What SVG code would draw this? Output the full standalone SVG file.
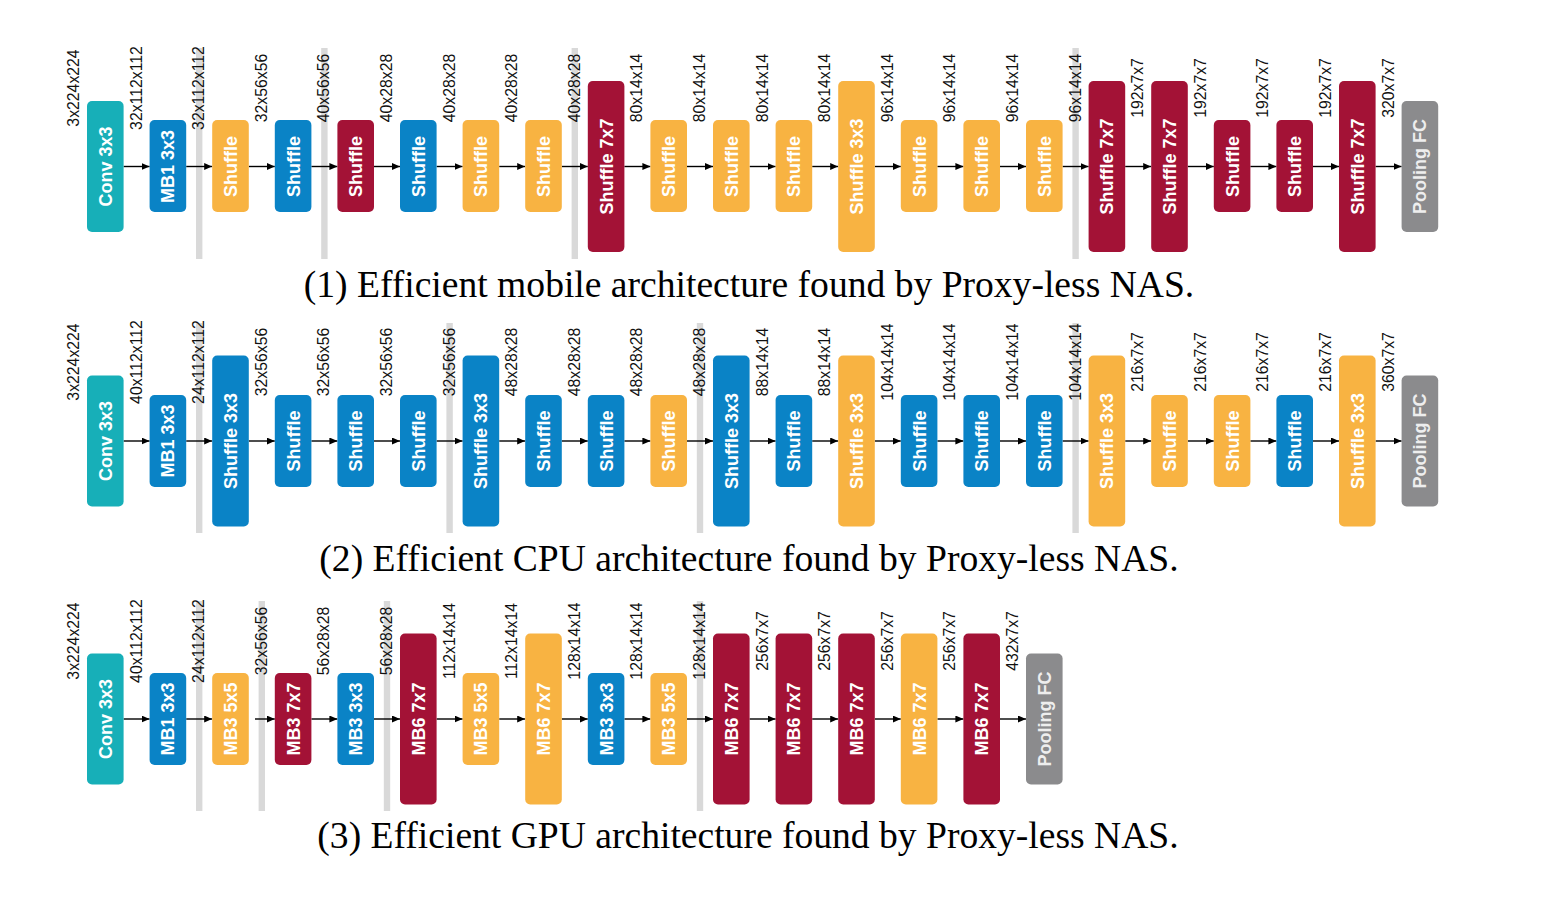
<svg xmlns="http://www.w3.org/2000/svg" width="1559" height="909" viewBox="0 0 1559 909">
<defs>
<style>
.teal{fill:#17AFB8}.blue{fill:#0A83C6}.org{fill:#F8B342}.red{fill:#A31236}.gray{fill:#8B8B8D}
.bar{fill:#D9D9D9}
.t{font-family:"Liberation Sans",Arial,sans-serif;font-weight:bold;font-size:18px;fill:#fff;text-anchor:middle}
.tg{font-family:"Liberation Sans",Arial,sans-serif;font-weight:bold;font-size:18px;fill:#EEEEEE;text-anchor:middle}
.l{font-family:"Liberation Sans",Arial,sans-serif;font-size:15.8px;fill:#111;text-anchor:middle}
.a{stroke:#000;stroke-width:1.4;marker-end:url(#ah)}
.c{font-family:"Liberation Serif","Times New Roman",serif;font-size:37.6px;fill:#000;text-anchor:middle}
</style>
<marker id="ah" markerWidth="8" markerHeight="7" refX="8" refY="3.5" orient="auto" markerUnits="userSpaceOnUse"><path d="M0,0 L8,3.5 L0,7 z" fill="#000"/></marker>
</defs>
<rect width="1559" height="909" fill="#fff"/>

<!-- separator bars -->
<g id="bars">
<rect class="bar" x="196" y="48" width="6.4" height="211"/>
<rect class="bar" x="321.2" y="48" width="6.4" height="211"/>
<rect class="bar" x="571.6" y="48" width="6.4" height="211"/>
<rect class="bar" x="1072.4" y="48" width="6.4" height="211"/>
<rect class="bar" x="196" y="323" width="6.4" height="210"/>
<rect class="bar" x="446.4" y="323" width="6.4" height="210"/>
<rect class="bar" x="696.8" y="323" width="6.4" height="210"/>
<rect class="bar" x="1072.4" y="323" width="6.4" height="210"/>
<rect class="bar" x="196" y="601" width="6.4" height="210"/>
<rect class="bar" x="258.6" y="601" width="6.4" height="210"/>
<rect class="bar" x="383.8" y="601" width="6.4" height="210"/>
<rect class="bar" x="696.8" y="601" width="6.4" height="210"/>
</g>

<!-- connectors -->
<g id="connectors">
<line class="a" x1="123.6" y1="166.5" x2="149.6" y2="166.5"/>
<line class="a" x1="186.2" y1="166.5" x2="212.2" y2="166.5"/>
<line class="a" x1="248.8" y1="166.5" x2="274.8" y2="166.5"/>
<line class="a" x1="311.4" y1="166.5" x2="337.4" y2="166.5"/>
<line class="a" x1="374" y1="166.5" x2="400" y2="166.5"/>
<line class="a" x1="436.6" y1="166.5" x2="462.6" y2="166.5"/>
<line class="a" x1="499.2" y1="166.5" x2="525.2" y2="166.5"/>
<line class="a" x1="561.8" y1="166.5" x2="587.8" y2="166.5"/>
<line class="a" x1="624.4" y1="166.5" x2="650.4" y2="166.5"/>
<line class="a" x1="687" y1="166.5" x2="713" y2="166.5"/>
<line class="a" x1="749.6" y1="166.5" x2="775.6" y2="166.5"/>
<line class="a" x1="812.2" y1="166.5" x2="838.2" y2="166.5"/>
<line class="a" x1="874.8" y1="166.5" x2="900.8" y2="166.5"/>
<line class="a" x1="937.4" y1="166.5" x2="963.4" y2="166.5"/>
<line class="a" x1="1000" y1="166.5" x2="1026" y2="166.5"/>
<line class="a" x1="1062.6" y1="166.5" x2="1088.6" y2="166.5"/>
<line class="a" x1="1125.2" y1="166.5" x2="1151.2" y2="166.5"/>
<line class="a" x1="1187.8" y1="166.5" x2="1213.8" y2="166.5"/>
<line class="a" x1="1250.4" y1="166.5" x2="1276.4" y2="166.5"/>
<line class="a" x1="1313" y1="166.5" x2="1339" y2="166.5"/>
<line class="a" x1="1375.6" y1="166.5" x2="1401.6" y2="166.5"/>

<line class="a" x1="123.6" y1="441" x2="149.6" y2="441"/>
<line class="a" x1="186.2" y1="441" x2="212.2" y2="441"/>
<line class="a" x1="248.8" y1="441" x2="274.8" y2="441"/>
<line class="a" x1="311.4" y1="441" x2="337.4" y2="441"/>
<line class="a" x1="374" y1="441" x2="400" y2="441"/>
<line class="a" x1="436.6" y1="441" x2="462.6" y2="441"/>
<line class="a" x1="499.2" y1="441" x2="525.2" y2="441"/>
<line class="a" x1="561.8" y1="441" x2="587.8" y2="441"/>
<line class="a" x1="624.4" y1="441" x2="650.4" y2="441"/>
<line class="a" x1="687" y1="441" x2="713" y2="441"/>
<line class="a" x1="749.6" y1="441" x2="775.6" y2="441"/>
<line class="a" x1="812.2" y1="441" x2="838.2" y2="441"/>
<line class="a" x1="874.8" y1="441" x2="900.8" y2="441"/>
<line class="a" x1="937.4" y1="441" x2="963.4" y2="441"/>
<line class="a" x1="1000" y1="441" x2="1026" y2="441"/>
<line class="a" x1="1062.6" y1="441" x2="1088.6" y2="441"/>
<line class="a" x1="1125.2" y1="441" x2="1151.2" y2="441"/>
<line class="a" x1="1187.8" y1="441" x2="1213.8" y2="441"/>
<line class="a" x1="1250.4" y1="441" x2="1276.4" y2="441"/>
<line class="a" x1="1313" y1="441" x2="1339" y2="441"/>
<line class="a" x1="1375.6" y1="441" x2="1401.6" y2="441"/>

<line class="a" x1="123.6" y1="719" x2="149.6" y2="719"/>
<line class="a" x1="186.2" y1="719" x2="212.2" y2="719"/>
<line class="a" x1="255" y1="719" x2="274.8" y2="719"/>
<line class="a" x1="311.4" y1="719" x2="337.4" y2="719"/>
<line class="a" x1="374" y1="719" x2="400" y2="719"/>
<line class="a" x1="436.6" y1="719" x2="462.6" y2="719"/>
<line class="a" x1="499.2" y1="719" x2="525.2" y2="719"/>
<line class="a" x1="561.8" y1="719" x2="587.8" y2="719"/>
<line class="a" x1="624.4" y1="719" x2="650.4" y2="719"/>
<line class="a" x1="687" y1="719" x2="713" y2="719"/>
<line class="a" x1="749.6" y1="719" x2="775.6" y2="719"/>
<line class="a" x1="812.2" y1="719" x2="838.2" y2="719"/>
<line class="a" x1="874.8" y1="719" x2="900.8" y2="719"/>
<line class="a" x1="937.4" y1="719" x2="963.4" y2="719"/>
<line class="a" x1="1000" y1="719" x2="1026" y2="719"/>
</g>

<!-- dimension labels -->
<g id="labels">
<text class="l" transform="translate(79,88) rotate(-90)">3x224x224</text>
<text class="l" transform="translate(141.6,88) rotate(-90)">32x112x112</text>
<text class="l" transform="translate(204.2,88) rotate(-90)">32x112x112</text>
<text class="l" transform="translate(266.8,88) rotate(-90)">32x56x56</text>
<text class="l" transform="translate(329.4,88) rotate(-90)">40x56x56</text>
<text class="l" transform="translate(392,88) rotate(-90)">40x28x28</text>
<text class="l" transform="translate(454.6,88) rotate(-90)">40x28x28</text>
<text class="l" transform="translate(517.2,88) rotate(-90)">40x28x28</text>
<text class="l" transform="translate(579.8,88) rotate(-90)">40x28x28</text>
<text class="l" transform="translate(642.4,88) rotate(-90)">80x14x14</text>
<text class="l" transform="translate(705,88) rotate(-90)">80x14x14</text>
<text class="l" transform="translate(767.6,88) rotate(-90)">80x14x14</text>
<text class="l" transform="translate(830.2,88) rotate(-90)">80x14x14</text>
<text class="l" transform="translate(892.8,88) rotate(-90)">96x14x14</text>
<text class="l" transform="translate(955.4,88) rotate(-90)">96x14x14</text>
<text class="l" transform="translate(1018,88) rotate(-90)">96x14x14</text>
<text class="l" transform="translate(1080.6,88) rotate(-90)">96x14x14</text>
<text class="l" transform="translate(1143.2,88) rotate(-90)">192x7x7</text>
<text class="l" transform="translate(1205.8,88) rotate(-90)">192x7x7</text>
<text class="l" transform="translate(1268.4,88) rotate(-90)">192x7x7</text>
<text class="l" transform="translate(1331,88) rotate(-90)">192x7x7</text>
<text class="l" transform="translate(1393.6,88) rotate(-90)">320x7x7</text>

<text class="l" transform="translate(79,362) rotate(-90)">3x224x224</text>
<text class="l" transform="translate(141.6,362) rotate(-90)">40x112x112</text>
<text class="l" transform="translate(204.2,362) rotate(-90)">24x112x112</text>
<text class="l" transform="translate(266.8,362) rotate(-90)">32x56x56</text>
<text class="l" transform="translate(329.4,362) rotate(-90)">32x56x56</text>
<text class="l" transform="translate(392,362) rotate(-90)">32x56x56</text>
<text class="l" transform="translate(454.6,362) rotate(-90)">32x56x56</text>
<text class="l" transform="translate(517.2,362) rotate(-90)">48x28x28</text>
<text class="l" transform="translate(579.8,362) rotate(-90)">48x28x28</text>
<text class="l" transform="translate(642.4,362) rotate(-90)">48x28x28</text>
<text class="l" transform="translate(705,362) rotate(-90)">48x28x28</text>
<text class="l" transform="translate(767.6,362) rotate(-90)">88x14x14</text>
<text class="l" transform="translate(830.2,362) rotate(-90)">88x14x14</text>
<text class="l" transform="translate(892.8,362) rotate(-90)">104x14x14</text>
<text class="l" transform="translate(955.4,362) rotate(-90)">104x14x14</text>
<text class="l" transform="translate(1018,362) rotate(-90)">104x14x14</text>
<text class="l" transform="translate(1080.6,362) rotate(-90)">104x14x14</text>
<text class="l" transform="translate(1143.2,362) rotate(-90)">216x7x7</text>
<text class="l" transform="translate(1205.8,362) rotate(-90)">216x7x7</text>
<text class="l" transform="translate(1268.4,362) rotate(-90)">216x7x7</text>
<text class="l" transform="translate(1331,362) rotate(-90)">216x7x7</text>
<text class="l" transform="translate(1393.6,362) rotate(-90)">360x7x7</text>

<text class="l" transform="translate(79,641) rotate(-90)">3x224x224</text>
<text class="l" transform="translate(141.6,641) rotate(-90)">40x112x112</text>
<text class="l" transform="translate(204.2,641) rotate(-90)">24x112x112</text>
<text class="l" transform="translate(266.8,641) rotate(-90)">32x56x56</text>
<text class="l" transform="translate(329.4,641) rotate(-90)">56x28x28</text>
<text class="l" transform="translate(392,641) rotate(-90)">56x28x28</text>
<text class="l" transform="translate(454.6,641) rotate(-90)">112x14x14</text>
<text class="l" transform="translate(517.2,641) rotate(-90)">112x14x14</text>
<text class="l" transform="translate(579.8,641) rotate(-90)">128x14x14</text>
<text class="l" transform="translate(642.4,641) rotate(-90)">128x14x14</text>
<text class="l" transform="translate(705,641) rotate(-90)">128x14x14</text>
<text class="l" transform="translate(767.6,641) rotate(-90)">256x7x7</text>
<text class="l" transform="translate(830.2,641) rotate(-90)">256x7x7</text>
<text class="l" transform="translate(892.8,641) rotate(-90)">256x7x7</text>
<text class="l" transform="translate(955.4,641) rotate(-90)">256x7x7</text>
<text class="l" transform="translate(1018,641) rotate(-90)">432x7x7</text>
</g>

<!-- Row 1 nodes -->
<g id="r1n0"><rect class="teal" x="87" y="101" width="36.6" height="131" rx="5"/><text class="t" transform="translate(111.8,166.5) rotate(-90)">Conv 3x3</text></g>
<g id="r1n1"><rect class="blue" x="149.6" y="120" width="36.6" height="92" rx="5"/><text class="t" transform="translate(174.4,166.5) rotate(-90)">MB1 3x3</text></g>
<g id="r1n2"><rect class="org" x="212.2" y="120" width="36.6" height="92" rx="5"/><text class="t" transform="translate(237,166.5) rotate(-90)">Shuffle</text></g>
<g id="r1n3"><rect class="blue" x="274.8" y="120" width="36.6" height="92" rx="5"/><text class="t" transform="translate(299.6,166.5) rotate(-90)">Shuffle</text></g>
<g id="r1n4"><rect class="red" x="337.4" y="120" width="36.6" height="92" rx="5"/><text class="t" transform="translate(362.2,166.5) rotate(-90)">Shuffle</text></g>
<g id="r1n5"><rect class="blue" x="400" y="120" width="36.6" height="92" rx="5"/><text class="t" transform="translate(424.8,166.5) rotate(-90)">Shuffle</text></g>
<g id="r1n6"><rect class="org" x="462.6" y="120" width="36.6" height="92" rx="5"/><text class="t" transform="translate(487.4,166.5) rotate(-90)">Shuffle</text></g>
<g id="r1n7"><rect class="org" x="525.2" y="120" width="36.6" height="92" rx="5"/><text class="t" transform="translate(550,166.5) rotate(-90)">Shuffle</text></g>
<g id="r1n8"><rect class="red" x="587.8" y="81" width="36.6" height="171" rx="5"/><text class="t" transform="translate(612.6,166.5) rotate(-90)">Shuffle 7x7</text></g>
<g id="r1n9"><rect class="org" x="650.4" y="120" width="36.6" height="92" rx="5"/><text class="t" transform="translate(675.2,166.5) rotate(-90)">Shuffle</text></g>
<g id="r1n10"><rect class="org" x="713" y="120" width="36.6" height="92" rx="5"/><text class="t" transform="translate(737.8,166.5) rotate(-90)">Shuffle</text></g>
<g id="r1n11"><rect class="org" x="775.6" y="120" width="36.6" height="92" rx="5"/><text class="t" transform="translate(800.4,166.5) rotate(-90)">Shuffle</text></g>
<g id="r1n12"><rect class="org" x="838.2" y="81" width="36.6" height="171" rx="5"/><text class="t" transform="translate(863,166.5) rotate(-90)">Shuffle 3x3</text></g>
<g id="r1n13"><rect class="org" x="900.8" y="120" width="36.6" height="92" rx="5"/><text class="t" transform="translate(925.6,166.5) rotate(-90)">Shuffle</text></g>
<g id="r1n14"><rect class="org" x="963.4" y="120" width="36.6" height="92" rx="5"/><text class="t" transform="translate(988.2,166.5) rotate(-90)">Shuffle</text></g>
<g id="r1n15"><rect class="org" x="1026" y="120" width="36.6" height="92" rx="5"/><text class="t" transform="translate(1050.8,166.5) rotate(-90)">Shuffle</text></g>
<g id="r1n16"><rect class="red" x="1088.6" y="81" width="36.6" height="171" rx="5"/><text class="t" transform="translate(1113.4,166.5) rotate(-90)">Shuffle 7x7</text></g>
<g id="r1n17"><rect class="red" x="1151.2" y="81" width="36.6" height="171" rx="5"/><text class="t" transform="translate(1176,166.5) rotate(-90)">Shuffle 7x7</text></g>
<g id="r1n18"><rect class="red" x="1213.8" y="120" width="36.6" height="92" rx="5"/><text class="t" transform="translate(1238.6,166.5) rotate(-90)">Shuffle</text></g>
<g id="r1n19"><rect class="red" x="1276.4" y="120" width="36.6" height="92" rx="5"/><text class="t" transform="translate(1301.2,166.5) rotate(-90)">Shuffle</text></g>
<g id="r1n20"><rect class="red" x="1339" y="81" width="36.6" height="171" rx="5"/><text class="t" transform="translate(1363.8,166.5) rotate(-90)">Shuffle 7x7</text></g>
<g id="r1n21"><rect class="gray" x="1401.6" y="101" width="36.6" height="131" rx="5"/><text class="tg" transform="translate(1426.4,166.5) rotate(-90)">Pooling FC</text></g>

<!-- Row 2 nodes -->
<g id="r2n0"><rect class="teal" x="87" y="375.5" width="36.6" height="131" rx="5"/><text class="t" transform="translate(111.8,441) rotate(-90)">Conv 3x3</text></g>
<g id="r2n1"><rect class="blue" x="149.6" y="395" width="36.6" height="92" rx="5"/><text class="t" transform="translate(174.4,441) rotate(-90)">MB1 3x3</text></g>
<g id="r2n2"><rect class="blue" x="212.2" y="355.5" width="36.6" height="171" rx="5"/><text class="t" transform="translate(237,441) rotate(-90)">Shuffle 3x3</text></g>
<g id="r2n3"><rect class="blue" x="274.8" y="395" width="36.6" height="92" rx="5"/><text class="t" transform="translate(299.6,441) rotate(-90)">Shuffle</text></g>
<g id="r2n4"><rect class="blue" x="337.4" y="395" width="36.6" height="92" rx="5"/><text class="t" transform="translate(362.2,441) rotate(-90)">Shuffle</text></g>
<g id="r2n5"><rect class="blue" x="400" y="395" width="36.6" height="92" rx="5"/><text class="t" transform="translate(424.8,441) rotate(-90)">Shuffle</text></g>
<g id="r2n6"><rect class="blue" x="462.6" y="355.5" width="36.6" height="171" rx="5"/><text class="t" transform="translate(487.4,441) rotate(-90)">Shuffle 3x3</text></g>
<g id="r2n7"><rect class="blue" x="525.2" y="395" width="36.6" height="92" rx="5"/><text class="t" transform="translate(550,441) rotate(-90)">Shuffle</text></g>
<g id="r2n8"><rect class="blue" x="587.8" y="395" width="36.6" height="92" rx="5"/><text class="t" transform="translate(612.6,441) rotate(-90)">Shuffle</text></g>
<g id="r2n9"><rect class="org" x="650.4" y="395" width="36.6" height="92" rx="5"/><text class="t" transform="translate(675.2,441) rotate(-90)">Shuffle</text></g>
<g id="r2n10"><rect class="blue" x="713" y="355.5" width="36.6" height="171" rx="5"/><text class="t" transform="translate(737.8,441) rotate(-90)">Shuffle 3x3</text></g>
<g id="r2n11"><rect class="blue" x="775.6" y="395" width="36.6" height="92" rx="5"/><text class="t" transform="translate(800.4,441) rotate(-90)">Shuffle</text></g>
<g id="r2n12"><rect class="org" x="838.2" y="355.5" width="36.6" height="171" rx="5"/><text class="t" transform="translate(863,441) rotate(-90)">Shuffle 3x3</text></g>
<g id="r2n13"><rect class="blue" x="900.8" y="395" width="36.6" height="92" rx="5"/><text class="t" transform="translate(925.6,441) rotate(-90)">Shuffle</text></g>
<g id="r2n14"><rect class="blue" x="963.4" y="395" width="36.6" height="92" rx="5"/><text class="t" transform="translate(988.2,441) rotate(-90)">Shuffle</text></g>
<g id="r2n15"><rect class="blue" x="1026" y="395" width="36.6" height="92" rx="5"/><text class="t" transform="translate(1050.8,441) rotate(-90)">Shuffle</text></g>
<g id="r2n16"><rect class="org" x="1088.6" y="355.5" width="36.6" height="171" rx="5"/><text class="t" transform="translate(1113.4,441) rotate(-90)">Shuffle 3x3</text></g>
<g id="r2n17"><rect class="org" x="1151.2" y="395" width="36.6" height="92" rx="5"/><text class="t" transform="translate(1176,441) rotate(-90)">Shuffle</text></g>
<g id="r2n18"><rect class="org" x="1213.8" y="395" width="36.6" height="92" rx="5"/><text class="t" transform="translate(1238.6,441) rotate(-90)">Shuffle</text></g>
<g id="r2n19"><rect class="blue" x="1276.4" y="395" width="36.6" height="92" rx="5"/><text class="t" transform="translate(1301.2,441) rotate(-90)">Shuffle</text></g>
<g id="r2n20"><rect class="org" x="1339" y="355.5" width="36.6" height="171" rx="5"/><text class="t" transform="translate(1363.8,441) rotate(-90)">Shuffle 3x3</text></g>
<g id="r2n21"><rect class="gray" x="1401.6" y="375.5" width="36.6" height="131" rx="5"/><text class="tg" transform="translate(1426.4,441) rotate(-90)">Pooling FC</text></g>

<!-- Row 3 nodes -->
<g id="r3n0"><rect class="teal" x="87" y="653.5" width="36.6" height="131" rx="5"/><text class="t" transform="translate(111.8,719) rotate(-90)">Conv 3x3</text></g>
<g id="r3n1"><rect class="blue" x="149.6" y="673" width="36.6" height="92" rx="5"/><text class="t" transform="translate(174.4,719) rotate(-90)">MB1 3x3</text></g>
<g id="r3n2"><rect class="org" x="212.2" y="673" width="36.6" height="92" rx="5"/><text class="t" transform="translate(237,719) rotate(-90)">MB3 5x5</text></g>
<g id="r3n3"><rect class="red" x="274.8" y="673" width="36.6" height="92" rx="5"/><text class="t" transform="translate(299.6,719) rotate(-90)">MB3 7x7</text></g>
<g id="r3n4"><rect class="blue" x="337.4" y="673" width="36.6" height="92" rx="5"/><text class="t" transform="translate(362.2,719) rotate(-90)">MB3 3x3</text></g>
<g id="r3n5"><rect class="red" x="400" y="633.5" width="36.6" height="171" rx="5"/><text class="t" transform="translate(424.8,719) rotate(-90)">MB6 7x7</text></g>
<g id="r3n6"><rect class="org" x="462.6" y="673" width="36.6" height="92" rx="5"/><text class="t" transform="translate(487.4,719) rotate(-90)">MB3 5x5</text></g>
<g id="r3n7"><rect class="org" x="525.2" y="633.5" width="36.6" height="171" rx="5"/><text class="t" transform="translate(550,719) rotate(-90)">MB6 7x7</text></g>
<g id="r3n8"><rect class="blue" x="587.8" y="673" width="36.6" height="92" rx="5"/><text class="t" transform="translate(612.6,719) rotate(-90)">MB3 3x3</text></g>
<g id="r3n9"><rect class="org" x="650.4" y="673" width="36.6" height="92" rx="5"/><text class="t" transform="translate(675.2,719) rotate(-90)">MB3 5x5</text></g>
<g id="r3n10"><rect class="red" x="713" y="633.5" width="36.6" height="171" rx="5"/><text class="t" transform="translate(737.8,719) rotate(-90)">MB6 7x7</text></g>
<g id="r3n11"><rect class="red" x="775.6" y="633.5" width="36.6" height="171" rx="5"/><text class="t" transform="translate(800.4,719) rotate(-90)">MB6 7x7</text></g>
<g id="r3n12"><rect class="red" x="838.2" y="633.5" width="36.6" height="171" rx="5"/><text class="t" transform="translate(863,719) rotate(-90)">MB6 7x7</text></g>
<g id="r3n13"><rect class="org" x="900.8" y="633.5" width="36.6" height="171" rx="5"/><text class="t" transform="translate(925.6,719) rotate(-90)">MB6 7x7</text></g>
<g id="r3n14"><rect class="red" x="963.4" y="633.5" width="36.6" height="171" rx="5"/><text class="t" transform="translate(988.2,719) rotate(-90)">MB6 7x7</text></g>
<g id="r3n15"><rect class="gray" x="1026" y="653.5" width="36.6" height="131" rx="5"/><text class="tg" transform="translate(1050.8,719) rotate(-90)">Pooling FC</text></g>

<!-- captions -->
<g id="captions">
<text class="c" x="749" y="297">(1) Efficient mobile architecture found by Proxy-less NAS.</text>
<text class="c" x="749" y="571">(2) Efficient CPU architecture found by Proxy-less NAS.</text>
<text class="c" x="748" y="848">(3) Efficient GPU architecture found by Proxy-less NAS.</text>
</g>
</svg>
